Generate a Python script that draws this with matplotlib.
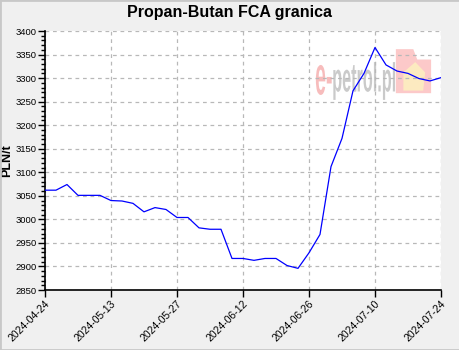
import numpy as np
import matplotlib.pyplot as plt
from matplotlib.ticker import MultipleLocator
from matplotlib.patches import Rectangle, Polygon, PathPatch
from matplotlib.textpath import TextPath
from matplotlib.font_manager import FontProperties
from matplotlib.transforms import Affine2D

plt.rcParams['font.family'] = ['Liberation Sans', 'DejaVu Sans']

# price readings, PLN/t (one per quotation)
prices = [3062, 3062, 3074, 3051, 3051, 3051, 3040, 3039, 3034, 3016,
          3025, 3021, 3004, 3004, 2982, 2979, 2979, 2917, 2917, 2913,
          2917, 2917, 2902, 2896, 2929, 2968, 3112, 3172, 3273, 3310,
          3365, 3328, 3315, 3310, 3299, 3294, 3301]
tick_labels = ['2024-04-24', '2024-05-13', '2024-05-27', '2024-06-12',
               '2024-06-26', '2024-07-10', '2024-07-24']
tick_step = 6


# squeeze a word into a box given in axes coords (tall, narrow watermark letters)
def boxed_text(ax, s, box, color, alpha):
    tp = TextPath((0, 0), s, size=1, prop=FontProperties(family='Liberation Sans', weight='bold'))
    ext = tp.get_extents()
    x0, y0, x1, y1 = box
    tr = (Affine2D().translate(-ext.x0, -ext.y0)
          .scale((x1 - x0) / ext.width, (y1 - y0) / ext.height)
          .translate(x0, y0) + ax.transAxes)
    ax.add_patch(PathPatch(tp, transform=tr, facecolor=color, edgecolor='none',
                           alpha=alpha, zorder=1))


fig = plt.figure(figsize=(4.6, 3.5), dpi=100, facecolor='#f0f0f0')
# thin frame round the whole picture
fig.patches.append(Rectangle((0, 0), 1, 1, transform=fig.transFigure,
                             fill=False, edgecolor='#c8c8c8', linewidth=2))
ax = fig.add_axes([0.0978, 0.1714, 0.8609, 0.74])

x = np.arange(len(prices))
ax.plot(x, prices, color='#0000ff', linewidth=0.9, zorder=3)

ax.set_xlim(0, len(prices) - 1)
ax.set_ylim(2850, 3400)
ax.set_xticks(np.arange(0, len(prices), tick_step))
ax.set_xticklabels(tick_labels, rotation=45, ha='right', va='top',
                   rotation_mode='anchor', fontsize=7.5)
ax.yaxis.set_major_locator(MultipleLocator(50))
ax.yaxis.set_minor_locator(MultipleLocator(10))
ax.tick_params(axis='y', which='major', length=5, width=1, labelsize=6.8, pad=1)
ax.tick_params(axis='y', which='minor', length=3, width=1)
ax.tick_params(axis='x', which='major', length=5, width=1, pad=1)

ax.grid(True, which='major', color='#b8b8b8', linestyle=(0, (3, 3)), linewidth=0.9)
for side in ['top', 'right']:
    ax.spines[side].set_visible(False)
for side in ['left', 'bottom']:
    ax.spines[side].set_linewidth(1.2)

fig.suptitle('Propan-Butan FCA granica', x=0.5, y=0.985, fontsize=11.5,
             fontweight='bold')
ax.set_ylabel('PLN/t', fontsize=9, fontweight='bold', labelpad=2)

# faded site watermark
boxed_text(ax, 'e-', (0.684, 0.753, 0.724, 0.869), '#f4a0a0', 0.7)
boxed_text(ax, 'petrol.pl', (0.728, 0.734, 0.884, 0.880), '#b4b4b4', 0.7)
ax.add_patch(Polygon([(0.886, 0.76), (0.886, 0.93), (0.93, 0.93), (0.94, 0.89),
                      (0.975, 0.89), (0.975, 0.76)], closed=True, transform=ax.transAxes,
                     facecolor='#fbb8b8', alpha=0.75, edgecolor='none', zorder=1))
ax.add_patch(Polygon([(0.905, 0.77), (0.905, 0.84), (0.935, 0.88), (0.96, 0.84),
                      (0.955, 0.77)], closed=True, transform=ax.transAxes,
                     facecolor='#fdeec0', alpha=0.9, edgecolor='none', zorder=1))

fig.savefig('out.png', dpi=100, facecolor=fig.get_facecolor())
